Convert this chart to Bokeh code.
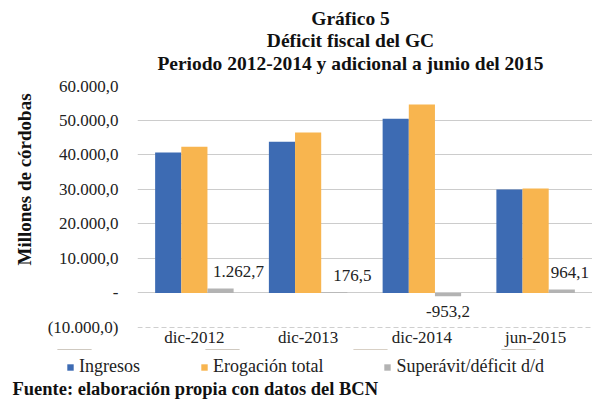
from bokeh.plotting import figure
from bokeh.layouts import column
from bokeh.models import (ColumnDataSource, FixedTicker, Legend, LegendItem,
                          LabelSet, Label, Span, Title, Range1d)
from bokeh.transform import dodge
from bokeh.embed import file_html
from bokeh.resources import INLINE

# ---- data ----
categories = ["dic-2012", "dic-2013", "dic-2014", "jun-2015"]
ingresos = [40600, 43700, 50400, 29900]
erogacion = [42300, 46400, 54500, 30200]
superavit = [1262.7, 176.5, -953.2, 964.1]
y_ticks = [-10000, 0, 10000, 20000, 30000, 40000, 50000, 60000]
y_tick_labels = ["(10.000,0)", "-", "10.000,0", "20.000,0", "30.000,0",
                 "40.000,0", "50.000,0", "60.000,0"]
series_names = ["Ingresos", "Erogación total", "Superávit/déficit d/d"]
title_lines = ["Gráfico 5", "Déficit fiscal del GC",
               "Periodo 2012-2014 y adicional a junio del 2015"]
y_axis_title = "Millones de córdobas"
source_note = "Fuente: elaboración propia con datos del BCN"

# label styling (horizontal pixel shift of each data label, per category)
label_dx = [18, 18, 0, 8]
label_dy = [17, 17, -15, 17]

FONT = "Liberation Serif"
BLUE = "#3d6bb3"
ORANGE = "#f8b54f"
GRAY = "#b3b3b3"
TXT = "#222222"
W = 592


def fmt(v):
    s = f"{v:,.1f}"
    return s.replace(",", "X").replace(".", ",").replace("X", ".")


src = ColumnDataSource(dict(cat=categories, ing=ingresos, ero=erogacion, sup=superavit))

# ---- title block ----
TOP_H = 76
pt = figure(width=W, height=TOP_H, x_range=Range1d(0, W), y_range=Range1d(0, TOP_H),
            x_axis_type=None, y_axis_type=None, output_backend="svg",
            toolbar_location=None, title=None, min_border=0, frame_align=False)
pt.outline_line_color = None
pt.grid.visible = False
for txt, yy in zip(title_lines, (58, 36, 13)):
    pt.add_layout(Label(x=350, y=yy, text=txt, text_align="center",
                        text_baseline="middle", text_font=FONT,
                        text_font_size="19.5px", text_font_style="bold",
                        text_color="#111111"))

# ---- main chart ----
p = figure(x_range=categories, y_range=(-10000, 60000), width=W, height=273,
           output_backend="svg", toolbar_location=None, title=None,
           min_border_left=137, min_border_right=0, min_border_top=9,
           min_border_bottom=20, frame_align=False)
p.outline_line_color = None

w = 0.23
r1 = p.vbar(x=dodge("cat", -w, range=p.x_range), top="ing", width=w, source=src,
            fill_color=BLUE, line_color=None)
r2 = p.vbar(x=dodge("cat", 0, range=p.x_range), top="ero", width=w, source=src,
            fill_color=ORANGE, line_color=None)
r3 = p.vbar(x=dodge("cat", w, range=p.x_range), top="sup", width=w, source=src,
            fill_color=GRAY, line_color=None)

p.yaxis.ticker = FixedTicker(ticks=y_ticks)
p.yaxis.major_label_overrides = {t: l for t, l in zip(y_ticks, y_tick_labels)}
p.yaxis.axis_line_color = None
p.yaxis.major_tick_line_color = None
p.yaxis.minor_tick_line_color = None
p.yaxis.major_tick_out = 0
p.yaxis.major_label_standoff = 19
p.yaxis.major_label_text_font = FONT
p.yaxis.major_label_text_font_size = "17px"
p.yaxis.major_label_text_color = TXT

p.xaxis.axis_line_color = None
p.xaxis.major_tick_line_color = None
p.xaxis.major_tick_out = 0
p.xaxis.major_label_standoff = 0
p.xaxis.major_label_text_font = FONT
p.xaxis.major_label_text_font_size = "17px"
p.xaxis.major_label_text_color = TXT

p.xgrid.grid_line_color = None
p.ygrid.ticker = FixedTicker(ticks=[t for t in y_ticks if t > y_ticks[0]])
p.ygrid.grid_line_color = "#cccccc"
p.add_layout(Span(location=y_ticks[0], dimension="width", line_color="#a0a0a0",
                  line_dash="5 3", line_width=1))

lab_src = ColumnDataSource(dict(cat=categories, sup=superavit,
                                txt=[fmt(v) for v in superavit],
                                dx=label_dx, dy=label_dy))
p.add_layout(LabelSet(x=dodge("cat", w, range=p.x_range), y="sup", text="txt",
                      source=lab_src, x_offset="dx", y_offset="dy",
                      text_align="center", text_baseline="middle", text_font=FONT,
                      text_font_size="17px", text_color=TXT))

p.add_layout(Title(text=y_axis_title, align="left", offset=62, standoff=19,
                   text_font=FONT, text_font_size="19px", text_font_style="bold",
                   text_color="#111111"), "left")

# ---- legend + source block ----
BOT_H = 54
pb = figure(width=W, height=BOT_H, x_range=categories, y_range=Range1d(0, BOT_H),
            x_axis_type=None, y_axis_type=None, output_backend="svg",
            toolbar_location=None, title=None, min_border=0, frame_align=False)
pb.outline_line_color = None
pb.grid.visible = False
# zero-height copies of the series, used only as legend swatches
g1 = pb.vbar(x="cat", top="ing", bottom="ing", width=w, source=src,
             fill_color=BLUE, line_color=None)
g2 = pb.vbar(x="cat", top="ero", bottom="ero", width=w, source=src,
             fill_color=ORANGE, line_color=None)
g3 = pb.vbar(x="cat", top="sup", bottom="sup", width=w, source=src,
             fill_color=GRAY, line_color=None)
legend = Legend(items=[LegendItem(label=series_names[0], renderers=[g1]),
                       LegendItem(label=series_names[1], renderers=[g2]),
                       LegendItem(label=series_names[2], renderers=[g3])],
                orientation="horizontal", location=(66, 26), padding=0, margin=0,
                spacing=60, glyph_width=8, glyph_height=8, label_standoff=5,
                label_height=18, label_text_font=FONT, label_text_font_size="18px",
                label_text_color=TXT, border_line_color=None,
                background_fill_alpha=0)
pb.add_layout(legend)
pb.add_layout(Label(x=12, y=15, x_units="screen", y_units="screen", text=source_note,
                    text_align="left", text_baseline="middle", text_font=FONT,
                    text_font_size="18.5px", text_font_style="bold",
                    text_color="#111111"))

layout = column(pt, p, pb, spacing=0)
open("out.html", "w").write(file_html(layout, INLINE))
